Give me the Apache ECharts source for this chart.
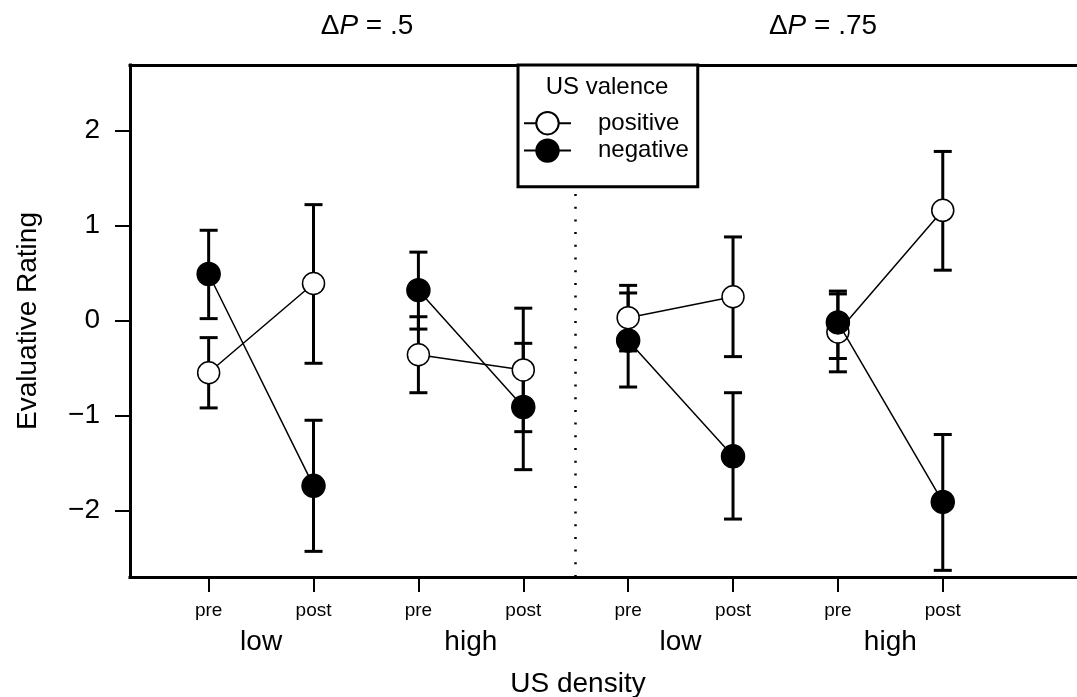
<!DOCTYPE html>
<html><head><meta charset="utf-8">
<script src="https://cdn.jsdelivr.net/npm/echarts@6/dist/echarts.min.js"></script>
<style>html,body{margin:0;padding:0;background:#fff}#c{width:1077px;height:697px}</style>
</head><body><div id="c"></div>
<script>
const FONT = '"Liberation Sans", Arial, Helvetica, sans-serif';

// x positions and labels
const xPos = [1, 2, 3, 4, 5, 6, 7, 8];
const phases = ['pre', 'post', 'pre', 'post', 'pre', 'post', 'pre', 'post'];
const densityPos = [1.5, 3.5, 5.5, 7.5];
const densities = ['low', 'high', 'low', 'high'];
const yTicks = [-2, -1, 0, 1, 2];
const dividerX = 4.5;

// US valence: positive (open circles)
const posMean = [-0.55, 0.39, -0.36, -0.52, 0.03, 0.25, -0.12, 1.16];
const posLo   = [-0.92, -0.45, -0.76, -1.17, -0.32, -0.38, -0.54, 0.53];
const posHi   = [-0.18, 1.22, 0.04, 0.13, 0.37, 0.88, 0.28, 1.78];
// US valence: negative (filled circles)
const negMean = [0.49, -1.74, 0.32, -0.91, -0.21, -1.43, -0.02, -1.91];
const negLo   = [0.02, -2.43, -0.09, -1.57, -0.70, -2.09, -0.40, -2.63];
const negHi   = [0.95, -1.05, 0.72, -0.24, 0.29, -0.76, 0.31, -1.20];

function pairs(mean){
  // pre/post pairs joined, gap between groups
  const out = [];
  xPos.forEach((x, i) => {
    out.push([x, mean[i]]);
    if (i % 2 === 1 && i < xPos.length - 1) out.push([x + 0.5, '-']);
  });
  return out;
}
function bars(lo, hi){ return xPos.map((x, i) => [x, lo[i], hi[i]]); }

function errBar(params, api){
  const x = api.value(0);
  const lo = api.coord([x, api.value(1)]);
  const hi = api.coord([x, api.value(2)]);
  const w = 9, st = {stroke: '#000', lineWidth: 3};
  return {type: 'group', children: [
    {type: 'line', shape: {x1: lo[0], y1: lo[1], x2: hi[0], y2: hi[1]}, style: st},
    {type: 'line', shape: {x1: lo[0] - w, y1: lo[1], x2: lo[0] + w, y2: lo[1]}, style: st},
    {type: 'line', shape: {x1: hi[0] - w, y1: hi[1], x2: hi[0] + w, y2: hi[1]}, style: st}
  ]};
}

const rich = {n: {fontSize: 28, fontFamily: FONT, fill: '#000'}, i: {fontSize: 28, fontFamily: FONT, fontStyle: 'italic', fill: '#000'}};
const frame = {show: true, onZero: false, lineStyle: {color: '#000', width: 3, cap: 'square'}};
const X_MIN = 0.25, X_MAX = 9.28;

const chart = echarts.init(document.getElementById('c'));
chart.setOption({
  animation: false,
  backgroundColor: '#fff',
  grid: {left: 130, top: 65, right: 0, height: 512},
  xAxis: [{
    type: 'value', min: X_MIN, max: X_MAX,
    axisLine: frame, splitLine: {show: false},
    axisTick: {show: true, length: 15, lineStyle: {color: '#000', width: 2}, customValues: xPos},
    axisLabel: {customValues: xPos, formatter: v => phases[xPos.indexOf(v)] || '', color: '#000', fontSize: 19, fontFamily: FONT, margin: 24}
  }, {
    type: 'value', min: X_MIN, max: X_MAX, position: 'bottom',
    axisLine: {show: false, onZero: false}, splitLine: {show: false}, axisTick: {show: false},
    axisLabel: {customValues: densityPos, formatter: v => densities[densityPos.indexOf(v)] || '', color: '#000', fontSize: 28, fontFamily: FONT, margin: 51}
  }, {
    type: 'value', min: X_MIN, max: X_MAX, position: 'top',
    axisLine: frame, splitLine: {show: false}, axisTick: {show: false}, axisLabel: {show: false}
  }],
  yAxis: {
    type: 'value', min: -2.7, max: 2.69,
    axisLine: frame, splitLine: {show: false},
    axisTick: {show: true, length: 15, lineStyle: {color: '#000', width: 2}, customValues: yTicks},
    axisLabel: {customValues: yTicks, formatter: v => (v < 0 ? '\u2212' + Math.abs(v) : String(v)), color: '#000', fontSize: 28, fontFamily: FONT, margin: 30}
  },
  legend: {
    data: ['positive', 'negative'], orient: 'vertical', left: 518, top: 65, z: 10,
    padding: [46, 9, 24, 5], itemWidth: 47, itemHeight: 28, itemGap: 3,
    backgroundColor: '#fff', borderColor: '#000', borderWidth: 3, borderRadius: 0,
    textStyle: {color: '#000', fontSize: 24, fontFamily: FONT, padding: [0, 0, 0, 22]},
    selectedMode: false
  },
  graphic: [
    {type: 'text', x: 367, y: 26, z: 100, style: {text: '{n|\u0394}{i|P}{n| = .5}', textAlign: 'center', textVerticalAlign: 'middle', rich}},
    {type: 'text', x: 823, y: 26, z: 100, style: {text: '{n|\u0394}{i|P}{n| = .75}', textAlign: 'center', textVerticalAlign: 'middle', rich}},
    {type: 'text', x: 28, y: 321, rotation: Math.PI / 2, z: 100, style: {text: 'Evaluative Rating', font: '28px ' + FONT, fill: '#000', textAlign: 'center', textVerticalAlign: 'middle'}},
    {type: 'text', x: 578, y: 684, z: 100, style: {text: 'US density', font: '28px ' + FONT, fill: '#000', textAlign: 'center', textVerticalAlign: 'middle'}},
    {type: 'text', x: 607, y: 87, z: 100, style: {text: 'US valence', font: '24px ' + FONT, fill: '#000', textAlign: 'center', textVerticalAlign: 'middle'}}
  ],
  series: [
    {name: 'positive CI', type: 'custom', renderItem: errBar, data: bars(posLo, posHi), encode: {x: 0, y: [1, 2]}, z: 1,
      markLine: {silent: true, z: 1, symbol: 'none', label: {show: false}, lineStyle: {color: '#000', width: 2.5, type: [2, 10.7]},
        data: [[{coord: [dividerX, -2.7]}, {coord: [dividerX, 2.69]}]]}},
    {name: 'negative CI', type: 'custom', renderItem: errBar, data: bars(negLo, negHi), encode: {x: 0, y: [1, 2]}, z: 1},
    {name: 'positive', type: 'line', data: pairs(posMean), symbol: 'circle', symbolSize: 22, showSymbol: true, z: 3,
      lineStyle: {color: '#000', width: 1.5}, itemStyle: {color: '#fff', borderColor: '#000', borderWidth: 1.5}},
    {name: 'negative', type: 'line', data: pairs(negMean), symbol: 'circle', symbolSize: 23, showSymbol: true, z: 4,
      lineStyle: {color: '#000', width: 1.5}, itemStyle: {color: '#000', borderColor: '#000', borderWidth: 1.5}}
  ]
});
</script></body></html>
